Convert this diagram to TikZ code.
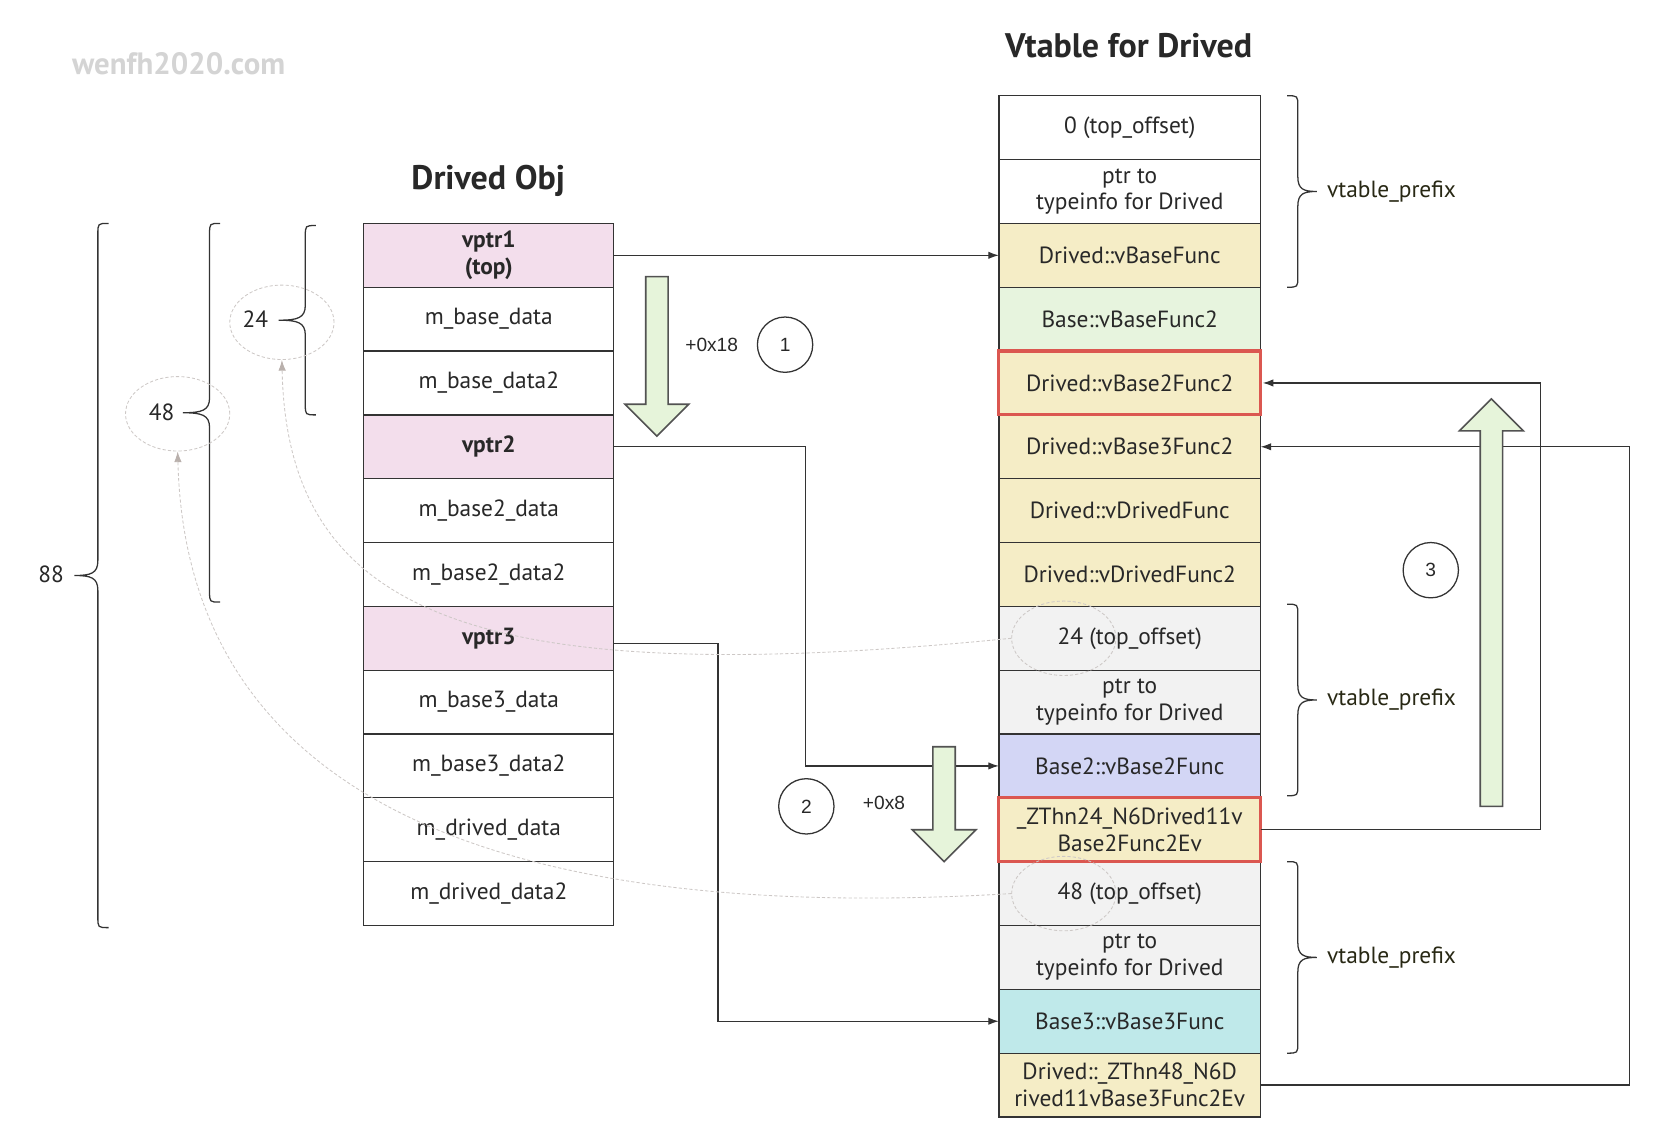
\documentclass[tikz,border=0pt]{standalone}
\usepackage{fontspec}
\setmainfont{PT Sans}
\newfontfamily\plainsans{Liberation Sans}
\usetikzlibrary{shapes,arrows,arrows.meta,positioning,calc}
\definecolor{linegray}{RGB}{51,51,51}
\definecolor{textdark}{RGB}{40,40,40}
\definecolor{prefixtext}{RGB}{40,40,20}
\definecolor{vptrpink}{RGB}{243,222,236}
\definecolor{funcyellow}{RGB}{245,237,198}
\definecolor{basegreen}{RGB}{231,244,222}
\definecolor{prefixgray}{RGB}{242,242,242}
\definecolor{base2blue}{RGB}{211,214,245}
\definecolor{base3cyan}{RGB}{191,233,234}
\definecolor{thunkred}{RGB}{219,87,80}
\definecolor{shiftgreen}{RGB}{230,244,218}
\definecolor{ringgray}{RGB}{205,200,198}
\definecolor{markgray}{RGB}{212,212,212}
\definecolor{tipgray}{RGB}{185,176,172}

\newcommand{\cellfont}{\fontsize{22}{25}\selectfont}
\newcommand{\titlefont}{\fontsize{32}{34}\selectfont\bfseries}

% curly brace: x of the stem, top, bottom, signed tip depth
\newcommand{\curlybrace}[4]{%
    \pgfmathsetmacro{\bmid}{(#2+#3)/2}%
    \pgfmathsetmacro{\bcurl}{#1-10*sign(#4)}%
    \pgfmathsetmacro{\btip}{#1+(#4)}%
    \pgfmathsetmacro{\bctrl}{#1+0.3*(#4)}%
    \pgfmathsetmacro{\bya}{#2+10}%
    \pgfmathsetmacro{\byb}{\bmid-14}%
    \pgfmathsetmacro{\byc}{\bmid-2}%
    \pgfmathsetmacro{\byd}{\bmid+2}%
    \pgfmathsetmacro{\bye}{\bmid+14}%
    \pgfmathsetmacro{\byf}{#3-10}%
    \draw[bracestyle] (\bcurl,#2) .. controls (#1,#2) .. (#1,\bya)
        -- (#1,\byb) .. controls (#1,\byc) and (\bctrl,\bmid) .. (\btip,\bmid)
        .. controls (\bctrl,\bmid) and (#1,\byd) .. (#1,\bye)
        -- (#1,\byf) .. controls (#1,#3) .. (\bcurl,#3);
}

% hollow shift arrow: x centre, start, head base, tip
\newcommand{\shiftarrow}[4]{%
    \pgfmathsetmacro{\sal}{#1-10.5}%
    \pgfmathsetmacro{\sar}{#1+10.5}%
    \pgfmathsetmacro{\hal}{#1-30}%
    \pgfmathsetmacro{\har}{#1+30}%
    \draw[bigarrow] (\sal,#2) -- (\sar,#2) -- (\sar,#3) -- (\har,#3)
        -- (#1,#4) -- (\hal,#3) -- (\sal,#3) -- cycle;
}

\tikzset{
    % table cells
    objcell/.style={
        rectangle, draw=linegray, line width=1.2pt, fill=white,
        minimum width=235pt, minimum height=60pt, inner sep=1pt, outer sep=0pt,
        align=center, font=\cellfont, text=textdark
    },
    ptrcell/.style={objcell, fill=vptrpink, font=\cellfont\bfseries},
    vtcell/.style={objcell, minimum width=246pt},
    funccell/.style={vtcell, fill=funcyellow},
    basecell/.style={vtcell, fill=basegreen},
    prefixcell/.style={vtcell, fill=prefixgray},
    base2cell/.style={vtcell, fill=base2blue},
    base3cell/.style={vtcell, fill=base3cyan},
    thunkframe/.style={draw=thunkred, line width=3pt},
    % connectors
    link/.style={-{Latex[length=10pt,width=7pt]}, line width=1.2pt, draw=linegray},
    dashlink/.style={
        -{Latex[length=10pt,width=7pt,color=tipgray]}, dash pattern=on 3pt off 2pt,
        line width=0.8pt, draw=ringgray
    },
    dashring/.style={
        ellipse, draw=ringgray, dash pattern=on 3pt off 2pt, line width=0.8pt,
        minimum width=98pt, minimum height=70pt, inner sep=0pt
    },
    bigarrow/.style={draw=linegray!85, line width=1.5pt, fill=shiftgreen, line join=miter},
    bracestyle/.style={draw=linegray, line width=1.2pt},
    % labels
    numcircle/.style={
        circle, draw=linegray, line width=1.2pt, minimum size=52pt, inner sep=0pt,
        font=\plainsans\fontsize{18}{20}\selectfont, text=textdark
    },
    offsetlabel/.style={font=\plainsans\fontsize{18}{20}\selectfont, text=textdark},
    bracelabel/.style={font=\cellfont, text=textdark},
    prefixlabel/.style={font=\cellfont, text=prefixtext, anchor=west},
    titletext/.style={font=\titlefont, text=textdark},
    watermark/.style={font=\fontsize{29}{32}\selectfont\bfseries, text=markgray}
}

\begin{document}
\begin{tikzpicture}[x=1pt, y=-1pt]
\useasboundingbox (0,0) rectangle (1568,1074);

% Titles
\node[watermark] (mark) at (168,60) {wenfh2020.com};
\node[titletext] (obj_title) at (459,170) {Drived Obj};
\node[titletext] (vt_title) at (1061,43) {Vtable for Drived};

% Drived object memory layout
\node[ptrcell] (vptr1) at (459.5,240) {vptr1\\(top)};
\node[objcell, below=0pt of vptr1] (m_base_data) {m\_base\_data};
\node[objcell, below=0pt of m_base_data] (m_base_data2) {m\_base\_data2};
\node[ptrcell, below=0pt of m_base_data2] (vptr2) {vptr2};
\node[objcell, below=0pt of vptr2] (m_base2_data) {m\_base2\_data};
\node[objcell, below=0pt of m_base2_data] (m_base2_data2) {m\_base2\_data2};
\node[ptrcell, below=0pt of m_base2_data2] (vptr3) {vptr3};
\node[objcell, below=0pt of vptr3] (m_base3_data) {m\_base3\_data};
\node[objcell, below=0pt of m_base3_data] (m_base3_data2) {m\_base3\_data2};
\node[objcell, below=0pt of m_base3_data2] (m_drived_data) {m\_drived\_data};
\node[objcell, below=0pt of m_drived_data] (m_drived_data2) {m\_drived\_data2};

% Vtable entries
\node[vtcell] (top_off0) at (1062,120) {0 (top\_offset)};
\node[vtcell, below=0pt of top_off0] (typeinfo0) {ptr to\\typeinfo for Drived};
\node[funccell, below=0pt of typeinfo0] (d_vbf) {Drived::vBaseFunc};
\node[basecell, below=0pt of d_vbf] (b_vbf2) {Base::vBaseFunc2};
\node[funccell, below=0pt of b_vbf2] (d_vb2f2) {Drived::vBase2Func2};
\node[funccell, below=0pt of d_vb2f2] (d_vb3f2) {Drived::vBase3Func2};
\node[funccell, below=0pt of d_vb3f2] (d_vdf) {Drived::vDrivedFunc};
\node[funccell, below=0pt of d_vdf] (d_vdf2) {Drived::vDrivedFunc2};
\node[prefixcell, below=0pt of d_vdf2] (top_off24) {24 (top\_offset)};
\node[prefixcell, below=0pt of top_off24] (typeinfo24) {ptr to\\typeinfo for Drived};
\node[base2cell, below=0pt of typeinfo24] (b2_vb2f) {Base2::vBase2Func};
\node[funccell, below=0pt of b2_vb2f] (thunk24) {\_ZThn24\_N6Drived11v\\Base2Func2Ev};
\node[prefixcell, below=0pt of thunk24] (top_off48) {48 (top\_offset)};
\node[prefixcell, below=0pt of top_off48] (typeinfo48) {ptr to\\typeinfo for Drived};
\node[base3cell, below=0pt of typeinfo48] (b3_vb3f) {Base3::vBase3Func};
\node[funccell, below=0pt of b3_vb3f] (thunk48) {Drived::\_ZThn48\_N6D\\rived11vBase3Func2Ev};

% Thunk highlights
\draw[thunkframe] (d_vb2f2.north west) rectangle (d_vb2f2.south east);
\draw[thunkframe] (thunk24.north west) rectangle (thunk24.south east);

% Pointers
\draw[link] (vptr1.east) -- (d_vbf.west);
\draw[link] (vptr2.east) -- ++(180,0) |- (b2_vb2f.west);
\draw[link] ([yshift=-5pt]vptr3.east) -- ++(98,0) |- (b3_vb3f.west);
\draw[link, shorten >=2pt] (thunk24.east) -- ++(263,0) |- (d_vb2f2.east);
\draw[link] (thunk48.east) -- ++(347,0) |- (d_vb3f2.east);

% this-pointer adjustments
\shiftarrow{617.5}{260}{380}{410}
\node[offsetlabel] (off18) at (669,324) {+0x18};
\node[numcircle] (step1) at (738,324) {1};
\shiftarrow{887.5}{702}{780}{810}
\node[offsetlabel] (off8) at (831,755) {+0x8};
\node[numcircle] (step2) at (758,758) {2};
\shiftarrow{1402}{758}{405}{375}
\node[numcircle] (step3) at (1345,536) {3};

% Braces
\curlybrace{1220}{90}{270}{18}
\node[prefixlabel] (prefix0) at (1244,180) {vtable\_prefix};
\curlybrace{1220}{568}{748}{18}
\node[prefixlabel] (prefix24) at (1244,658) {vtable\_prefix};
\curlybrace{1220}{810}{990}{18}
\node[prefixlabel] (prefix48) at (1244,900) {vtable\_prefix};
\curlybrace{287}{212}{390}{-25}
\node[bracelabel] (size24) at (240,300) {24};
\curlybrace{197}{210}{566}{-25}
\node[bracelabel] (size48) at (152,388) {48};
\curlybrace{92}{210}{872}{-22}
\node[bracelabel] (size88) at (48,540) {88};

% top_offset references
\node[dashring] (ring24) at (265,303) {};
\node[dashring] (ring48) at (167,389) {};
\node[dashring] (ring24r) at (1000,600) {};
\node[dashring] (ring48r) at (1000,840) {};
\draw[dashlink] (ring24r.west) .. controls (450,650) and (270,580) .. (ring24.south);
\draw[dashlink] (ring48r.west) .. controls (450,870) and (175,740) .. (ring48.south);

\end{tikzpicture}
\end{document}
